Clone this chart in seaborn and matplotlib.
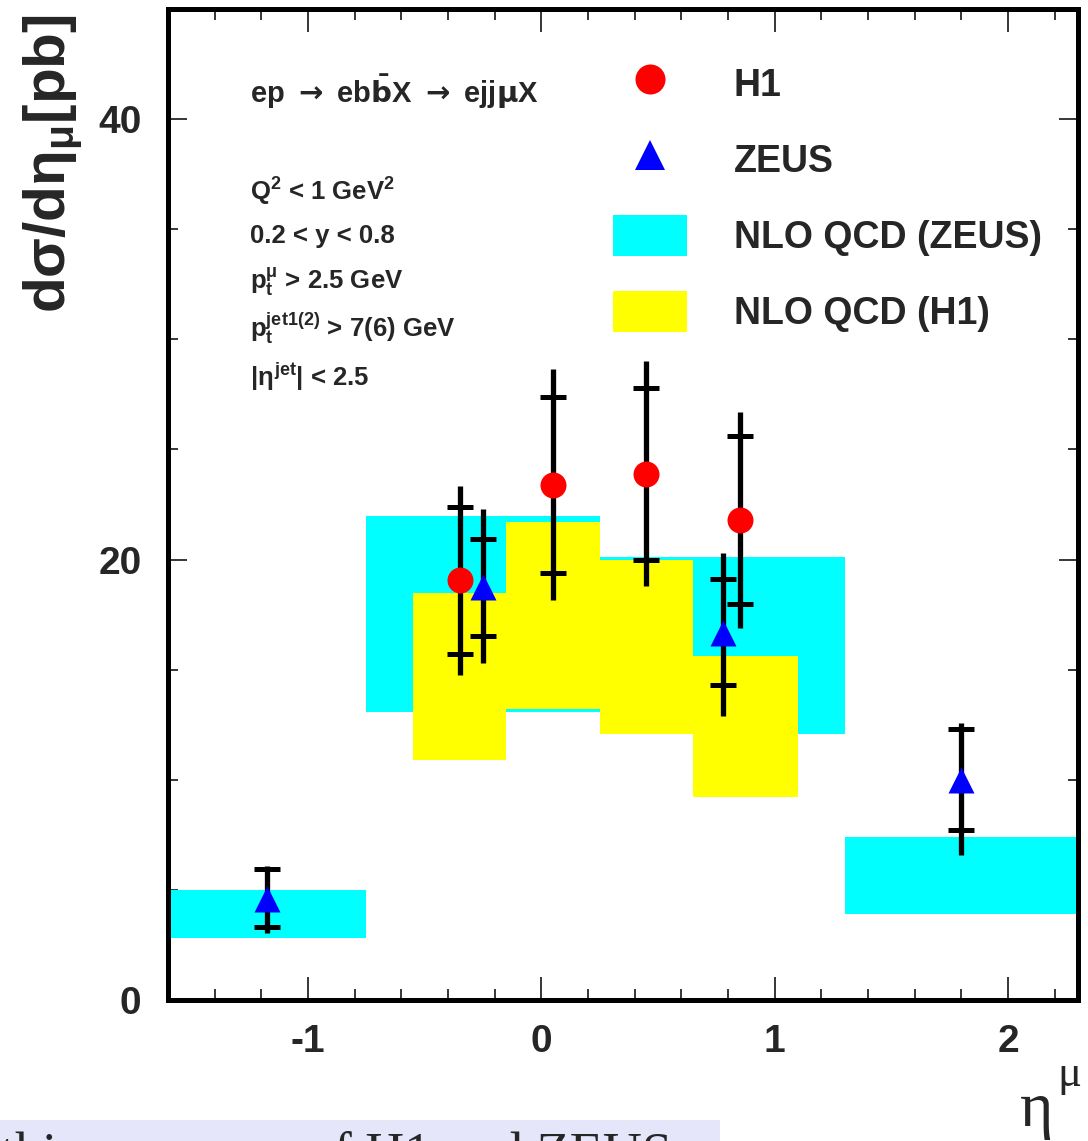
import matplotlib
matplotlib.use("Agg")
import matplotlib.pyplot as plt
import seaborn as sns
from matplotlib.lines import Line2D
from matplotlib.patches import Patch, Rectangle
from matplotlib.ticker import FixedLocator, MultipleLocator

# NLO QCD bands (ZEUS binning)
zeus_bin_lo = [-1.6, -0.75, 0.25, 1.3]
zeus_bin_hi = [-0.75, 0.25, 1.3, 2.3]
zeus_nlo_lo = [2.8, 13.1, 12.1, 3.9]
zeus_nlo_hi = [5.0, 22.0, 20.1, 7.4]

# NLO QCD bands (H1 binning)
h1_bin_lo = [-0.55, -0.15, 0.25, 0.65]
h1_bin_hi = [-0.15, 0.25, 0.65, 1.1]
h1_nlo_lo = [10.9, 13.2, 12.1, 9.2]
h1_nlo_hi = [18.5, 21.7, 20.0, 15.6]

# H1 data
h1_eta = [-0.35, 0.05, 0.45, 0.85]
h1_xsec = [19.05, 23.4, 23.9, 21.8]
h1_stat = [3.35, 4.0, 3.9, 3.8]
h1_tot = [4.3, 5.25, 5.1, 4.9]

# ZEUS data
zeus_eta = [-1.175, -0.25, 0.78, 1.8]
zeus_xsec = [4.6, 18.75, 16.65, 10.0]
zeus_stat_dn = [1.3, 2.2, 2.35, 2.3]
zeus_stat_up = [1.35, 2.2, 2.45, 2.3]
zeus_tot_dn = [1.55, 3.45, 3.75, 3.4]
zeus_tot_up = [1.5, 3.55, 3.65, 2.6]

cuts = [
    r"Q$^{2}$ < 1 GeV$^{2}$",
    "0.2 < y < 0.8",
    r"p$_{t}^{\mu}$ > 2.5 GeV",
    r"p$_{t}^{jet1(2)}$ > 7(6) GeV",
    r"|$\eta^{jet}$| < 2.5",
]

CYAN = "#00ffff"
YELLOW = "#ffff00"

sns.set_theme(style="ticks")
plt.rcParams["font.family"] = ["Liberation Sans", "DejaVu Sans"]
plt.rcParams["font.weight"] = "bold"
plt.rcParams["axes.unicode_minus"] = False
plt.rcParams["mathtext.fontset"] = "custom"
plt.rcParams["mathtext.rm"] = "Liberation Sans:bold"
plt.rcParams["mathtext.it"] = "Liberation Sans:bold"
plt.rcParams["mathtext.bf"] = "Liberation Sans:bold"
plt.rcParams["mathtext.sf"] = "Liberation Sans:bold"

fig = plt.figure(figsize=(10.88, 11.41), dpi=100)
ax = fig.add_axes([168 / 1088, 141 / 1141, 910 / 1088, 991 / 1141])

# bands
z_width = [hi - lo for lo, hi in zip(zeus_bin_lo, zeus_bin_hi)]
z_mid = [(lo + hi) / 2 for lo, hi in zip(zeus_bin_lo, zeus_bin_hi)]
ax.bar(z_mid, [hi - lo for lo, hi in zip(zeus_nlo_lo, zeus_nlo_hi)], bottom=zeus_nlo_lo,
       width=z_width, color=CYAN, linewidth=0, zorder=1)
h_width = [hi - lo for lo, hi in zip(h1_bin_lo, h1_bin_hi)]
h_mid = [(lo + hi) / 2 for lo, hi in zip(h1_bin_lo, h1_bin_hi)]
ax.bar(h_mid, [hi - lo for lo, hi in zip(h1_nlo_lo, h1_nlo_hi)], bottom=h1_nlo_lo,
       width=h_width, color=YELLOW, linewidth=0, zorder=2)

# error bars: line = total, crossbar = statistical
ax.errorbar(h1_eta, h1_xsec, yerr=h1_tot, fmt="none", ecolor="black",
            elinewidth=3.8, capsize=0, zorder=3)
ax.errorbar(h1_eta, h1_xsec, yerr=h1_stat, fmt="none", ecolor="black",
            elinewidth=0, capsize=9.5, capthick=3.6, zorder=3)
ax.errorbar(zeus_eta, zeus_xsec, yerr=[zeus_tot_dn, zeus_tot_up], fmt="none",
            ecolor="black", elinewidth=3.8, capsize=0, zorder=3)
ax.errorbar(zeus_eta, zeus_xsec, yerr=[zeus_stat_dn, zeus_stat_up], fmt="none",
            ecolor="black", elinewidth=0, capsize=9.5, capthick=3.6, zorder=3)

sns.scatterplot(x=h1_eta, y=h1_xsec, marker="o", s=350, color="#ff0000",
                linewidth=0, zorder=4, ax=ax)
sns.scatterplot(x=zeus_eta, y=zeus_xsec, marker="^", s=350, color="#0000ff",
                linewidth=0, zorder=4, ax=ax)

ax.set_xlim(-1.6, 2.3)
ax.set_ylim(0, 45)
ax.xaxis.set_major_locator(FixedLocator([-1, 0, 1, 2]))
ax.xaxis.set_minor_locator(MultipleLocator(0.2))
ax.yaxis.set_major_locator(FixedLocator([0, 20, 40]))
ax.yaxis.set_minor_locator(MultipleLocator(5))
ax.set_xticklabels(["-1", "0", "1", "2"])
ax.set_yticklabels(["0", "20", "40"])
ax.tick_params(which="both", direction="in", top=True, right=True, width=1.1, color="black")
ax.tick_params(axis="x", which="major", length=16.5, pad=17, labelsize=28)
ax.tick_params(axis="x", which="minor", length=8)
ax.tick_params(axis="y", which="major", length=14, pad=19, labelsize=28)
ax.tick_params(axis="y", which="minor", length=7)
for lab in ax.get_xticklabels() + ax.get_yticklabels():
    lab.set_fontweight("bold")
for sp in ax.spines.values():
    sp.set_linewidth(3.6)
    sp.set_color("black")
ax.set_xlabel("")
ax.set_ylabel("")

# process and cuts text
ax.text(0.090, 0.905, r"ep $\rightarrow$ eb$\bar{\mathbf{b}}$X $\rightarrow$ ejj$\mathbf{\mu}$X",
        transform=ax.transAxes, fontsize=21, fontweight="bold", va="baseline",
        math_fontfamily="dejavusans")
for txt, yy in zip(cuts, [0.807, 0.764, 0.718, 0.669, 0.620]):
    ax.text(0.090, yy, txt, transform=ax.transAxes, fontsize=18.5,
            fontweight="bold", va="baseline")

# legend
handles = [
    Line2D([], [], marker="o", color="#ff0000", ls="none", ms=21.6, mew=0),
    Line2D([], [], marker="^", color="#0000ff", ls="none", ms=21.6, mew=0),
    Patch(facecolor=CYAN, edgecolor="none"),
    Patch(facecolor=YELLOW, edgecolor="none"),
]
labels = ["H1", "ZEUS", "NLO QCD (ZEUS)", "NLO QCD (H1)"]
ax.legend(handles, labels, loc="upper left", bbox_to_anchor=(0.489, 0.946),
          frameon=False, prop={"weight": "bold", "size": 27},
          handlelength=1.97, handleheight=1.33, labelspacing=0.92,
          handletextpad=1.25, borderpad=0, borderaxespad=0)

# axis titles
fig.text(53 / 1088, (1141 - 14) / 1141, r"d$\sigma$/d$\eta_{\mu}$[pb]", rotation=90,
         fontsize=42, fontweight="bold", ha="center", va="top")
serif = ["Liberation Serif", "DejaVu Serif"]
fig.text(1020 / 1088, (1141 - 1126) / 1141, "η", family=serif, fontsize=46,
         fontweight="normal", ha="left", va="baseline")
fig.text(1057 / 1088, (1141 - 1086) / 1141, "μ", family=serif, fontsize=32,
         fontweight="normal", ha="left", va="baseline")

# caption strip cut at the bottom
fig.patches.append(Rectangle((0, 0), 720 / 1088, 21 / 1141, transform=fig.transFigure,
                             facecolor="#e6e6fa", edgecolor="none", zorder=0))
fig.text(0.0, (1141 - 1131) / 1141, "this summary of H1 and ZEUS",
         family=serif, fontweight="normal",
         fontsize=39, ha="left", va="top", zorder=1)

fig.savefig("out.png", dpi=100)
